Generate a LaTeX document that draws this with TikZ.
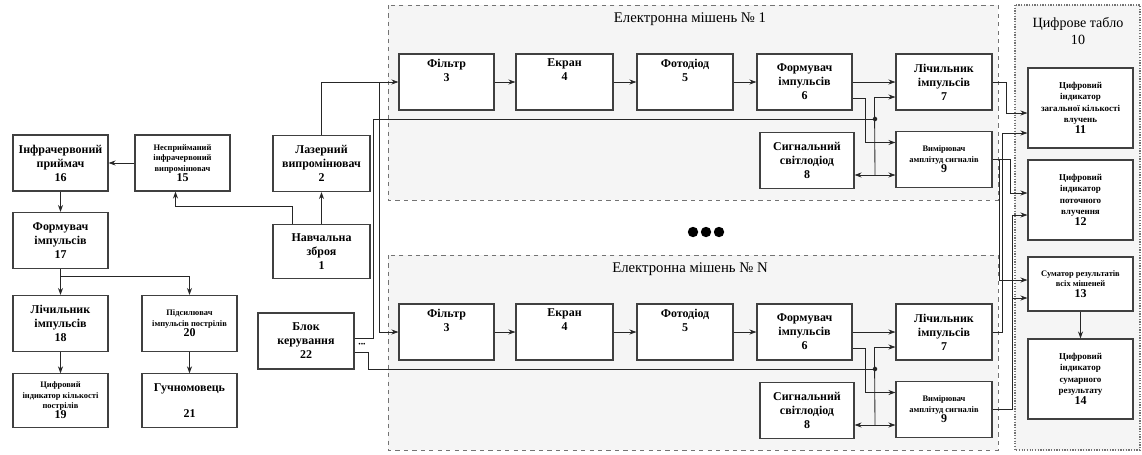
\documentclass[tikz,border=0pt]{standalone}
\usepackage{fontspec}
\setmainfont{Liberation Serif}
\usetikzlibrary{arrows.meta,calc}
\newcommand{\blocknum}[1]{{\fontsize{8.5}{10}\selectfont\bfseries #1}}

\begin{document}
\begin{tikzpicture}
  [x=0.025cm,y=-0.025cm,
   block/.style={draw=black!75,line width=0.8pt,fill=white,minimum width=2.375cm,minimum height=1.4cm,
     inner sep=1pt,align=center,font=\fontsize{8.5}{10}\selectfont\bfseries},
   smallblock/.style={block,font=\fontsize{6}{7.4}\selectfont\bfseries},
   frame/.style={draw=black!55,dashed,line width=0.7pt,fill=black!4},
   panel/.style={draw=black!55,densely dotted,line width=0.9pt,fill=black!4},
   title/.style={align=center,font=\fontsize{10.5}{12.5}\selectfont},
   line/.style={draw=black!85,line width=0.6pt},
   arr/.style={line,-{Stealth[length=5pt,width=3.6pt]}}]
  \useasboundingbox (0,0) rectangle (1142,454);

  % left part: shot registration
  \node[block] (b16) at (60.5,163) {Інфрачервоний\\приймач\\16};
  \node[smallblock] (b15) at (182.5,163) {Несприйманий\\інфрачервоний\\випромінювач\\\blocknum{15}};
  \node[block] (b17) at (60.5,240.5) {Формувач\\імпульсів\\17};
  \node[block] (b18) at (60.5,323.5) {Лічильник\\імпульсів\\18};
  \node[smallblock,minimum height=1.33cm] (b19) at (60.5,400.5) {Цифровий\\індикатор кількості\\пострілів\\\blocknum{19}};
  \node[smallblock] (b20) at (189.5,323.5) {Підсилювач\\імпульсів пострілів\\\blocknum{20}};
  \node[block,minimum height=1.33cm] (b21) at (189.5,400.5) {Гучномовець\\[9pt]21};

  % weapon, laser, control unit
  \node[block,minimum width=2.425cm] (b2) at (321.5,163.5) {Лазерний\\випромінювач\\2};
  \node[block,minimum width=2.425cm,minimum height=1.33cm] (b1) at (321.5,251.5) {Навчальна\\зброя\\1};
  \node[block,minimum width=2.4cm] (b22) at (306,341) {Блок\\керування\\22};
  \node[font=\fontsize{5}{5}\selectfont,inner sep=0pt] (dots22) at (362,345) {•••};

  % electronic targets
  \foreach \dy/\t in {0/1,250/N} {
    \draw[frame] (388,{5+\dy}) rectangle (998,{200+\dy});
    \node[title] (title\t) at (690,{19+\dy}) {Електронна мішень № \t};
    \node[block] (filt\t) at (446.5,{82+\dy}) {Фільтр\\3\\[7pt]};
    \node[block,minimum width=2.425cm] (scr\t) at (564.5,{82+\dy}) {Екран\\4\\[7pt]};
    \node[block,minimum width=2.4cm] (pd\t) at (685,{82+\dy}) {Фотодіод\\5\\[7pt]};
    \node[block] (shp\t) at (804.5,{82+\dy}) {Формувач\\імпульсів\\6};
    \node[block,minimum width=2.4cm] (cnt\t) at (944,{82+\dy}) {Лічильник\\імпульсів\\7};
    \node[block,minimum width=2.35cm] (led\t) at (807,{160.5+\dy}) {Сигнальний\\світлодіод\\8};
    \node[smallblock,minimum width=2.4cm] (amp\t) at (944,{159.5+\dy}) {Вимірювач\\амплітуд сигналів\\\blocknum{9}};
    \draw[arr] (filt\t) -- (scr\t);
    \draw[arr] (scr\t) -- (pd\t);
    \draw[arr] (pd\t) -- (shp\t);
    \draw[arr] (shp\t) -- (cnt\t);
    \draw[arr] ($(shp\t.east)+(0,16)$) -- ++(13,0) |- ($(amp\t.west)+(0,-17)$);
    \coordinate (j\t) at (875,{119+\dy});
    \coordinate (k\t) at (875,{175+\dy});
    \draw[line] ($(cnt\t.west)+(-21,15)$) -- (k\t);
    \draw[arr] ($(cnt\t.west)+(-21,15)$) -- ($(cnt\t.west)+(0,15)$);
    \draw[arr] (k\t) -- (amp\t.west |- k\t);
    \draw[arr] (k\t) -- (led\t.east |- k\t);
    \fill[black!85] (j\t) circle (1.6pt);
  }
  \fill[black] (693,232) circle (0.13cm) (706,232) circle (0.13cm) (719,232) circle (0.13cm);

  % digital scoreboard
  \draw[panel] (1015,5) rectangle (1140,450);
  \node[title,font=\fontsize{10}{12}\selectfont] (tablo) at (1078,31) {Цифрове табло\\10};
  \node[smallblock,minimum width=2.625cm,minimum height=2cm,font=\fontsize{6.4}{8}\selectfont\bfseries] (b11) at (1080.5,108) {Цифровий\\індикатор\\загальної кількості\\влучень\\\blocknum{11}};
  \node[smallblock,minimum width=2.625cm,minimum height=2cm,font=\fontsize{6.4}{8}\selectfont\bfseries] (b12) at (1080.5,200) {Цифровий\\індикатор\\поточного\\влучення\\\blocknum{12}};
  \node[smallblock,minimum width=2.625cm,minimum height=1.35cm] (b13) at (1080.5,284) {Суматор результатів\\всіх мішеней\\\blocknum{13}};
  \node[smallblock,minimum width=2.625cm,minimum height=2cm,font=\fontsize{6.4}{8}\selectfont\bfseries] (b14) at (1080.5,379) {Цифровий\\індикатор\\сумарного\\результату\\\blocknum{14}};
  \draw[arr] (b13) -- (b14);

  % connections
  \draw[arr] (b15) -- (b16);
  \draw[arr] (b16) -- (b17);
  \draw[arr] (b17) -- (b18);
  \draw[arr] (b18) -- (b19);
  \draw[arr] (b17.south) ++(0,7) -| (b20.north);
  \draw[arr] (b20) -- (b21);
  \draw[arr] (b1) -- (b2);
  \draw[arr] ($(b1.north)+(-29,0)$) -- ++(0,-18) -| ($(b15.south)+(-7,0)$);
  \coordinate (lzsplit) at (379,82);
  \draw[arr] (b2.north) |- (filt1.west);
  \draw[arr] (lzsplit) |- (filtN.west);
  \draw[line] ($(b22.east)+(0,-3)$) -| (j1 -| 373,0) -- (j1);
  \draw[line] ($(b22.east)+(0,11)$) -| (jN -| 368,0) -- (jN);
  \draw[arr] (cnt1.east) -- ++(14,0) |- ($(b11.west)+(0,5)$);
  \draw[arr] (cntN.east) -- ++(10,0) |- ($(b11.west)+(0,25)$);
  \draw[arr] (amp1.east) -- ++(18,0) |- ($(b12.west)+(0,-7)$);
  \draw[arr] ($(amp1.east)+(7,0)$) |- ($(b13.west)+(0,-4)$);
  \draw[arr] (ampN.east) -- ++(20,0) |- ($(b12.west)+(0,15)$);
  \draw[arr] ($(ampN.east)+(20,0)$) |- ($(b13.west)+(0,14)$);
\end{tikzpicture}
\end{document}
